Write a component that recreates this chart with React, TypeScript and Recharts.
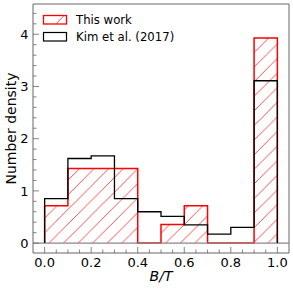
import React from "react";
import {
	ComposedChart,
	Area,
	Line,
	XAxis,
	YAxis,
	ReferenceLine,
	ReferenceArea,
} from "recharts";

// histogram bins (B/T), width 0.1
const binEdges = [0, 0.1, 0.2, 0.3, 0.4, 0.5, 0.6, 0.7, 0.8, 0.9, 1.0];
const thisWork = [0.714, 1.429, 1.429, 1.429, 0, 0.357, 0.714, 0, 0, 3.929];
const kim2017 = [0.85, 1.62, 1.67, 0.85, 0.6, 0.51, 0.35, 0.17, 0.3, 3.11];

const xTicks = [
	0, 0.05, 0.1, 0.15, 0.2, 0.25, 0.3, 0.35, 0.4, 0.45, 0.5, 0.55, 0.6, 0.65,
	0.7, 0.75, 0.8, 0.85, 0.9, 0.95, 1.0,
];
const xMajor = [0, 0.2, 0.4, 0.6, 0.8, 1.0];
const yTicks = [
	0, 0.2, 0.4, 0.6, 0.8, 1, 1.2, 1.4, 1.6, 1.8, 2, 2.2, 2.4, 2.6, 2.8, 3, 3.2,
	3.4, 3.6, 3.8, 4, 4.2, 4.4,
];
const yMajor = [0, 1, 2, 3, 4];

const FONT = "'DejaVu Sans', sans-serif";
const AXIS = "#666";

// turn bin values into step outline points (like histtype="step")
const toSteps = (vals: number[]) => {
	const pts: { x: number; y: number }[] = [{ x: binEdges[0], y: 0 }];
	vals.forEach((v, i) => {
		pts.push({ x: binEdges[i], y: v });
		pts.push({ x: binEdges[i + 1], y: v });
	});
	pts.push({ x: binEdges[binEdges.length - 1], y: 0 });
	return pts;
};

const isIn = (arr: number[], v: number) => arr.some((m) => Math.abs(m - v) < 1e-6);

const XTick = (props: any) => {
	const { x, y, payload } = props;
	const major = isIn(xMajor, payload.value);
	return (
		<g>
			<line x1={x} x2={x} y1={y} y2={y - (major ? 6 : 3.5)} stroke={AXIS} strokeWidth={0.8} />
			{major && (
				<text x={x} y={y + 14} textAnchor="middle" fontSize={13} fontFamily={FONT} fill="#000">
					{payload.value.toFixed(1)}
				</text>
			)}
		</g>
	);
};

const YTick = (props: any) => {
	const { x, y, payload } = props;
	const major = isIn(yMajor, payload.value);
	return (
		<g>
			<line x1={x} x2={x + (major ? 6 : 3.5)} y1={y} y2={y} stroke={AXIS} strokeWidth={0.8} />
			{major && (
				<text x={x - 4.5} y={y + 4.7} textAnchor="end" fontSize={13} fontFamily={FONT} fill="#000">
					{payload.value}
				</text>
			)}
		</g>
	);
};

const App = () => {
	return (
		<div style={{ position: "absolute", left: 0, top: 0, width: 293, height: 291 }}>
			<ComposedChart
				width={293}
				height={291}
				margin={{ top: 4, right: 4, bottom: 0, left: 0 }}
			>
				<defs>
					<pattern id="hatch" patternUnits="userSpaceOnUse" width={14.6} height={14.6}>
						<path
							d="M-1,1 L1,-1 M0,14.6 L14.6,0 M13.6,15.6 L15.6,13.6"
							stroke="#ff3b3b"
							strokeWidth={0.9}
						/>
					</pattern>
				</defs>
				<XAxis
					type="number"
					dataKey="x"
					domain={[-0.05, 1.05]}
					ticks={xTicks}
					interval={0}
					height={38}
					axisLine={false}
					tickLine={false}
					tickSize={0}
					tickMargin={0}
					tick={<XTick />}
					label={(p: any) => (
						<text
							x={p.viewBox.x + p.viewBox.width / 2}
							y={p.viewBox.y + 28}
							textAnchor="middle"
							fontSize={14}
							fontStyle="italic"
							fontFamily={FONT}
							fill="#000"
						>
							B/T
						</text>
					)}
				/>
				<YAxis
					type="number"
					domain={[-0.19, 4.58]}
					ticks={yTicks}
					interval={0}
					width={33}
					axisLine={false}
					tickLine={false}
					tickSize={0}
					tickMargin={0}
					tick={<YTick />}
					label={(p: any) => {
						const cx = 10.5;
						const cy = p.viewBox.y + p.viewBox.height / 2;
						return (
							<text
								x={cx}
								y={cy}
								transform={`rotate(-90 ${cx} ${cy})`}
								textAnchor="middle"
								dominantBaseline="central"
								fontSize={14}
								fontFamily={FONT}
								fill="#000"
							>
								Number density
							</text>
						);
					}}
				/>
				<ReferenceLine y={0} stroke="#888" strokeWidth={1.2} />
				<Area
					data={toSteps(thisWork)}
					dataKey="y"
					type="linear"
					baseValue={0}
					stroke="#ff0000"
					strokeWidth={1.5}
					fill="url(#hatch)"
					fillOpacity={1}
					dot={false}
					activeDot={false}
					isAnimationActive={false}
				/>
				<Line
					data={toSteps(kim2017)}
					dataKey="y"
					type="linear"
					stroke="#000"
					strokeWidth={1.3}
					dot={false}
					activeDot={false}
					isAnimationActive={false}
				/>
				<ReferenceArea
					x1={-0.05}
					x2={1.05}
					y1={-0.19}
					y2={4.58}
					fill="none"
					stroke={AXIS}
					strokeWidth={1}
				/>
			</ComposedChart>
			<svg
				width={293}
				height={291}
				style={{ position: "absolute", left: 0, top: 0, pointerEvents: "none" }}
			>
				<rect x={43.5} y={15.5} width={23} height={8.5} fill="#fff" stroke="#ff0000" strokeWidth={1.3} />
				<line x1={56} y1={24} x2={64} y2={15.5} stroke="#ff3b3b" strokeWidth={0.9} />
				<text x={76} y={24.3} fontSize={11.7} fontFamily={FONT} fill="#000">
					This work
				</text>
				<rect x={43.5} y={32.5} width={23} height={8.5} fill="#fff" stroke="#000" strokeWidth={1.2} />
				<text x={76} y={41.3} fontSize={11.7} fontFamily={FONT} fill="#000">
					Kim et al. (2017)
				</text>
			</svg>
		</div>
	);
};

export default App;
